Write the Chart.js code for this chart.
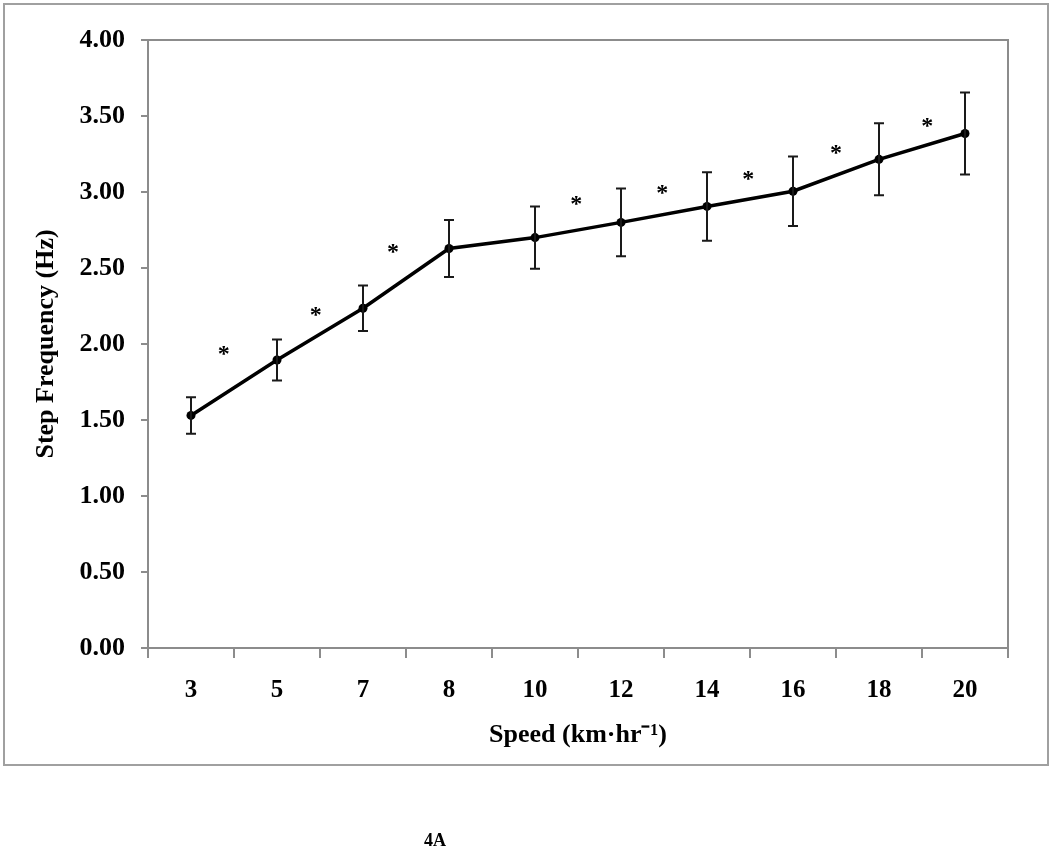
<!DOCTYPE html>
<html>
<head>
<meta charset="utf-8">
<script src="https://cdn.jsdelivr.net/npm/chart.js@4"></script>
<style>
  body { margin: 0; background: #fff; }
  #wrap { position: relative; width: 1050px; height: 849px; overflow: hidden; }
  #frame { position: absolute; left: 3px; top: 3px; width: 1042px; height: 759px; border: 2px solid #a0a0a0; }
  #G1 { position: absolute; left: 0; top: 0; }
  #fig { position: absolute; left: 424px; top: 830px; font: bold 18px "Liberation Serif", "Times New Roman", serif; color: #000; }
</style>
</head>
<body>
<div id="wrap">
  <div id="frame"></div>
  <canvas id="G1" width="1050" height="849"></canvas>
  <div id="fig">4A</div>
</div>
<script>
// speed categories (km/hr) and mean step frequency (Hz)
var speeds = ['3', '5', '7', '8', '10', '12', '14', '16', '18', '20'];
var stepFreq = [1.53, 1.895, 2.235, 2.628, 2.70, 2.80, 2.905, 3.005, 3.215, 3.385];
var stepSD = [0.12, 0.135, 0.15, 0.188, 0.205, 0.223, 0.225, 0.228, 0.237, 0.27];
// significance markers, placed between speeds (category index units)
var starX = [0.38, 1.45, 2.35, 4.48, 5.48, 6.48, 7.5, 8.56];
var starY = [1.96, 2.22, 2.63, 2.95, 3.02, 3.11, 3.28, 3.46];
var yTicks = [0, 0.5, 1, 1.5, 2, 2.5, 3, 3.5, 4];

var serif = '"Liberation Serif", "Times New Roman", serif';

var extras = {
    id: 'extras',
    afterDatasetsDraw: function (chart) {
        var ctx = chart.ctx, x = chart.scales.x, y = chart.scales.y, a = chart.chartArea;
        ctx.save();
        // plot area frame
        ctx.strokeStyle = '#8c8c8c';
        ctx.lineWidth = 2;
        ctx.strokeRect(a.left, a.top, a.right - a.left, a.bottom - a.top);
        // error bars
        ctx.strokeStyle = '#1a1a1a';
        ctx.lineWidth = 2;
        for (var i = 0; i < stepFreq.length; i++) {
            var px = x.getPixelForValue(i);
            var hi = y.getPixelForValue(stepFreq[i] + stepSD[i]);
            var lo = y.getPixelForValue(stepFreq[i] - stepSD[i]);
            ctx.beginPath();
            ctx.moveTo(px, hi); ctx.lineTo(px, lo);
            ctx.moveTo(px - 5, hi); ctx.lineTo(px + 5, hi);
            ctx.moveTo(px - 5, lo); ctx.lineTo(px + 5, lo);
            ctx.stroke();
        }
        // asterisks
        ctx.fillStyle = '#000';
        ctx.font = 'bold 24px ' + serif;
        ctx.textAlign = 'center';
        ctx.textBaseline = 'alphabetic';
        for (var j = 0; j < starX.length; j++) {
            ctx.fillText('*', x.getPixelForValue(starX[j]), y.getPixelForValue(starY[j]) + 11);
        }
        ctx.restore();
    }
};

new Chart(document.getElementById('G1'), {
    type: 'line',
    data: {
        labels: speeds,
        datasets: [
            {
                data: stepFreq,
                borderColor: '#000',
                backgroundColor: '#000',
                borderWidth: 3.5,
                pointRadius: 4.5,
                pointBackgroundColor: '#000',
                pointBorderWidth: 0,
                tension: 0,
                fill: false
            }
        ]
    },
    options: {
        responsive: false,
        animation: false,
        layout: { padding: { top: 40, right: 42, bottom: 86, left: 0 } },
        plugins: { legend: { display: false }, tooltip: { enabled: false } },
        scales: {
            x: {
                offset: true,
                grid: { offset: true, drawOnChartArea: false, color: '#8c8c8c', tickLength: 10, lineWidth: 2 },
                border: { color: '#8c8c8c', width: 2 },
                ticks: { color: '#000', padding: 18, font: { family: serif, size: 25, weight: 'bold' } },
                title: {
                    display: true,
                    text: 'Speed (km·hr⁻¹)',
                    color: '#000',
                    padding: { top: 0, bottom: 12 },
                    font: { family: serif, size: 26, weight: 'bold' }
                },
                afterFit: function (s) { s.height = 115; }
            },
            y: {
                min: 0,
                max: 4,
                afterBuildTicks: function (s) { s.ticks = yTicks.map(function (v) { return { value: v }; }); },
                grid: { drawOnChartArea: false, color: '#8c8c8c', tickLength: 7, lineWidth: 2 },
                border: { color: '#8c8c8c', width: 2 },
                ticks: {
                    color: '#000',
                    padding: 16,
                    font: { family: serif, size: 26, weight: 'bold' },
                    callback: function (v) { return Number(v).toFixed(2); }
                },
                title: {
                    display: true,
                    text: 'Step Frequency (Hz)',
                    color: '#000',
                    padding: { top: 31, bottom: 0 },
                    font: { family: serif, size: 26, weight: 'bold' }
                },
                afterFit: function (s) { s.width = 148; }
            }
        }
    },
    plugins: [extras]
});
</script>
</body>
</html>
